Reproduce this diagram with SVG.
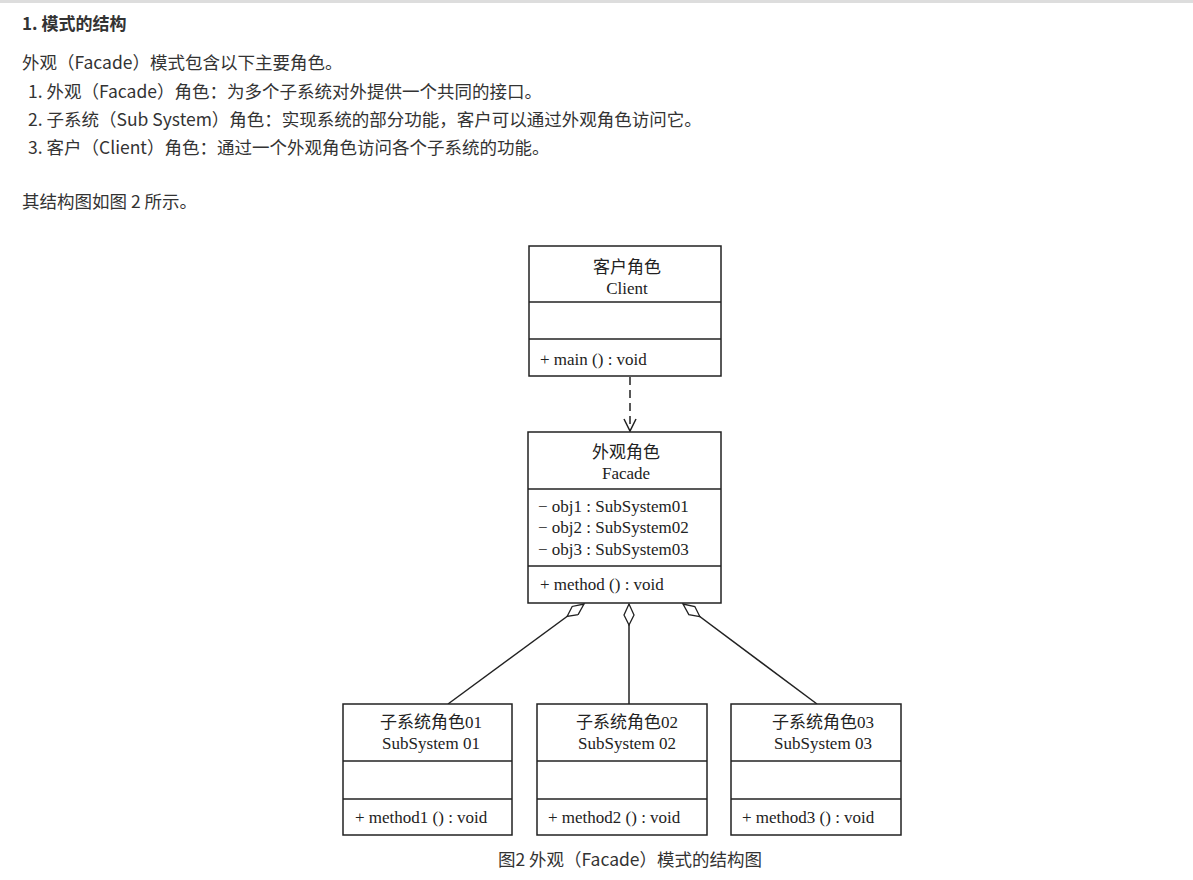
<svg xmlns="http://www.w3.org/2000/svg" width="1193" height="880" viewBox="0 0 1193 880">
<style>
.t{font-family:"Microsoft YaHei","Noto Sans CJK SC",sans-serif;font-size:17.5px;fill:#333}
.h{font-family:"Noto Sans CJK SC",sans-serif;font-size:17px;font-weight:bold;fill:#333}
.b{fill:#fff;stroke:#222;stroke-width:1.5}
.l{stroke:#222;stroke-width:1.5}
.n{font-family:"Liberation Serif","Noto Sans CJK SC",serif;font-size:17px;fill:#222}
.c{text-anchor:middle}
.k{stroke:#222;stroke-width:1.5;fill:none}
</style>
<defs>
<marker id="dia" markerWidth="24" markerHeight="12" refX="22" refY="6" orient="auto" markerUnits="userSpaceOnUse">
<path d="M1,6 L11,1 L22,6 L11,11 Z" fill="#fff" stroke="#222" stroke-width="1.3"/>
</marker>
<marker id="arr" markerWidth="16" markerHeight="16" refX="14" refY="8" orient="auto" markerUnits="userSpaceOnUse">
<path d="M2,2 L14,8 L2,14" fill="none" stroke="#222" stroke-width="1.5"/>
</marker>
</defs>
<rect x="0" y="0" width="1193" height="3" fill="#ddd"/>
<text class="h" x="22" y="30">1. 模式的结构</text>
<text class="t" x="22" y="69">外观（Facade）模式包含以下主要角色。</text>
<text class="t" x="28" y="98">1. 外观（Facade）角色：为多个子系统对外提供一个共同的接口。</text>
<text class="t" x="28" y="126">2. 子系统（Sub System）角色：实现系统的部分功能，客户可以通过外观角色访问它。</text>
<text class="t" x="28" y="154">3. 客户（Client）角色：通过一个外观角色访问各个子系统的功能。</text>
<text class="t" x="22" y="208">其结构图如图 2 所示。</text>
<g id="connectors">
<line class="k" x1="630" y1="377" x2="630" y2="431" stroke-dasharray="8,5" marker-end="url(#arr)"/>
<line class="k" x1="448" y1="704" x2="584" y2="604" marker-end="url(#dia)"/>
<line class="k" x1="629" y1="704" x2="629" y2="604" marker-end="url(#dia)"/>
<line class="k" x1="817" y1="704" x2="683" y2="604" marker-end="url(#dia)"/>
</g>
<g id="client">
<rect class="b" x="529" y="246" width="192" height="130"/>
<line class="l" x1="529" y1="302" x2="721" y2="302"/>
<line class="l" x1="529" y1="339" x2="721" y2="339"/>
<text class="n c" x="627" y="273">客户角色</text>
<text class="n c" x="627" y="294">Client</text>
<text class="n" x="540" y="365">+ main () : void</text>
</g>
<g id="facade">
<rect class="b" x="528" y="432" width="193" height="171"/>
<line class="l" x1="528" y1="489" x2="721" y2="489"/>
<line class="l" x1="528" y1="566" x2="721" y2="566"/>
<text class="n c" x="626" y="458">外观角色</text>
<text class="n c" x="626" y="479">Facade</text>
<text class="n" x="538" y="512">− obj1 : SubSystem01</text>
<text class="n" x="538" y="533">− obj2 : SubSystem02</text>
<text class="n" x="538" y="555">− obj3 : SubSystem03</text>
<text class="n" x="540" y="590">+ method () : void</text>
</g>
<g id="sub1">
<rect class="b" x="343" y="704" width="169" height="131"/>
<line class="l" x1="343" y1="761" x2="512" y2="761"/>
<line class="l" x1="343" y1="799" x2="512" y2="799"/>
<text class="n c" x="431" y="728">子系统角色01</text>
<text class="n c" x="431" y="749">SubSystem  01</text>
<text class="n" x="355" y="823">+ method1 () : void</text>
</g>
<g id="sub2">
<rect class="b" x="537" y="704" width="170" height="131"/>
<line class="l" x1="537" y1="761" x2="707" y2="761"/>
<line class="l" x1="537" y1="799" x2="707" y2="799"/>
<text class="n c" x="627" y="728">子系统角色02</text>
<text class="n c" x="627" y="749">SubSystem  02</text>
<text class="n" x="548" y="823">+ method2 () : void</text>
</g>
<g id="sub3">
<rect class="b" x="731" y="704" width="170" height="131"/>
<line class="l" x1="731" y1="761" x2="901" y2="761"/>
<line class="l" x1="731" y1="799" x2="901" y2="799"/>
<text class="n c" x="823" y="728">子系统角色03</text>
<text class="n c" x="823" y="749">SubSystem  03</text>
<text class="n" x="742" y="823">+ method3 () : void</text>
</g>
<text class="t c" x="630" y="866">图2 外观（Facade）模式的结构图</text>
</svg>
